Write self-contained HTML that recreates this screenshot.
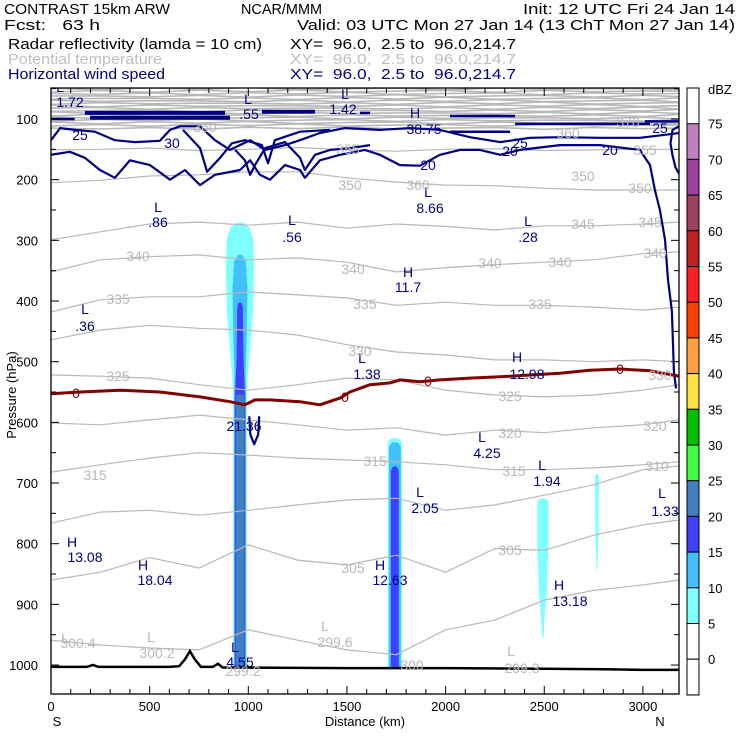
<!DOCTYPE html>
<html><head><meta charset="utf-8"><style>
html,body{margin:0;padding:0;background:#fff;}
svg{display:block;font-family:"Liberation Sans",sans-serif;}
</style></head><body>
<svg id="chart" width="740" height="740" viewBox="0 0 740 740" xmlns="http://www.w3.org/2000/svg">
<g font-size="15">
<text x="4" y="14" textLength="166" lengthAdjust="spacingAndGlyphs">CONTRAST 15km ARW</text>
<text x="241" y="14" textLength="81" lengthAdjust="spacingAndGlyphs">NCAR/MMM</text>
<text x="523" y="14" textLength="212" lengthAdjust="spacingAndGlyphs">Init: 12 UTC Fri 24 Jan 14</text>
<text x="4" y="30" xml:space="preserve" textLength="96" lengthAdjust="spacingAndGlyphs">Fcst:   63 h</text>
<text x="297" y="30" textLength="438" lengthAdjust="spacingAndGlyphs">Valid: 03 UTC Mon 27 Jan 14 (13 ChT Mon 27 Jan 14)</text>
<text x="8" y="49" textLength="254" lengthAdjust="spacingAndGlyphs">Radar reflectivity (lamda = 10 cm)</text>
<text x="290" y="49" xml:space="preserve" textLength="226" lengthAdjust="spacingAndGlyphs">XY=  96.0,  2.5 to  96.0,214.7</text>
<text x="8" y="64" fill="#c0c0c0" textLength="154" lengthAdjust="spacingAndGlyphs">Potential temperature</text>
<text x="290" y="64" fill="#c0c0c0" xml:space="preserve" textLength="226" lengthAdjust="spacingAndGlyphs">XY=  96.0,  2.5 to  96.0,214.7</text>
<text x="8" y="79" fill="#000080" textLength="157" lengthAdjust="spacingAndGlyphs">Horizontal wind speed</text>
<text x="290" y="79" fill="#000080" xml:space="preserve" textLength="226" lengthAdjust="spacingAndGlyphs">XY=  96.0,  2.5 to  96.0,214.7</text>
</g>
<defs><clipPath id="plotclip"><rect x="51" y="88" width="628" height="606"/></clipPath></defs>
<g id="plot" clip-path="url(#plotclip)"></g>
<g id="axes"></g>
<g id="cbar"></g>
</svg>
<script>
// ---- data ----
const xsKm = [0,250,500,750,1000,1250,1500,1750,2000,2250,2500,2750,3000,3183];
const thetaLevels = [350,345,340,335,330,325,320,315,310,305,300];
const theta350 = [205,201,194,192,187,187,197,204,209,210,214,217,217,217];
const theta345 = [299,286,273,270,275,270,280,273,277,283,276,276,273,270];
const theta340 = [352,332,327,324,332,329,336,352,345,340,336,332,322,319];
const theta335 = [418,398,393,393,385,390,395,407,402,407,407,410,415,410];
const theta330 = [464,448,440,445,448,456,472,484,489,497,497,500,497,500];
const theta325 = [522,524,527,538,547,538,527,530,547,555,558,555,547,538];
const theta320 = [601,604,596,588,596,604,613,609,621,613,617,609,604,596];
const theta315 = [682,670,659,650,654,659,662,665,670,678,678,675,670,665];
const theta310 = [766,748,745,753,745,736,728,725,745,736,720,703,678,672];
const theta305 = [860,847,823,840,802,827,835,819,847,808,811,786,769,761];
const theta300 = [959,967,972,975,942,959,975,983,942,926,893,877,868,860];
const theta355 = [151,150,148,152,150,147,151,153,150,149,152,151,150,150];
const stratP = [115,110,106,102,98,94,90,86,82,78,74,70,66,62,58,54,50];
const stratWiggle = [0,1.5,-1,2,-1.5,1,-2,1.5,0,-1,2,-1,1,0];

const wind20Km = [0,96,172,248,324,400,502,603,679,755,831,958,1009,1059,1110,1186,1262,1287,1363,1465,1591,1667,1769,1870,1971,2073,2174,2276,2377,2580,2782,2985,3036,3061,3086,3112,3127,3147,3157,3168];
const wind20P  = [159,154,164,184,197,168,176,200,184,209,192,184,168,192,200,176,184,197,168,159,151,159,176,177,159,151,151,159,151,143,143,151,176,217,250,299,365,417,516,544];
const wind25Km = [0,46,122,223,324,426,552,603,654,755,831,907,1009,1085,1186,1262,1363,1490,1667,1819,1971,2123,2276,2428,2580,2782,2985,3112,3183];
const wind25P  = [135,115,118,121,135,138,136,118,112,112,135,151,135,151,143,135,123,115,118,115,118,130,138,131,130,131,131,126,123];
const wind30aKm = [933,983,1009,1034,1085,1186,1262,1287,1338,1414,1515,1617];
const wind30aP  = [151,168,192,176,148,138,164,184,159,151,148,143];
const wind30bKm = [669,755,791,857,917,983,1069,1100,1135,1262,1414];
const wind30bP  = [118,148,187,164,140,135,143,173,135,121,118];
const windRightKm = [3183,3150,3140,3150,3165,3183];
const windRightP  = [112,118,140,160,180,190];
const windSmallKm = [1005,1010,1030,1050,1055];
const windSmallP  = [590,620,636,620,590];
const jetStartKm = [172,198,1069,1566,2022,2352,2022,0,3010];
const jetEndKm   = [882,907,1338,1617,2352,3036,2327,120,3183];
const jetP       = [90,98,88,90,95,108,121,100,104];

const freezeKm = [0,147,350,552,755,907,983,1034,1110,1262,1363,1465,1515,1617,1718,1769,1870,1971,2123,2276,2428,2580,2732,2884,3036,3183];
const freezeP  = [553,550,547,550,558,566,571,563,563,566,571,560,550,538,535,530,533,530,527,525,522,519,514,512,515,524];

const terrainKm = [0,180,213,240,600,650,680,704,728,760,820,846,870,1500,2000,2500,2800,3000,3183];
const terrainP  = [1003,1003,1000,1003,1003,1002,990,977,990,1003,1003,998,1004,1005,1005,1006,1007,1008,1008];

const dbzLevels = [75,70,65,60,55,50,45,40,35,30,25,20,15,10,5,0];
const dbzColors = ["#c080c0","#a040a0","#a04060","#c02020","#ff2020","#ff4000","#ffa040","#ffe040","#00c000","#40ff40","#4080c0","#4040ff","#40c0ff","#80ffff","#ffffff"];
// plumes: center km, profile pressures, half-widths (km)
const plume1Center = 958;
const p1CyanP = [271,280,300,350,420,480,530,560,700,1004], p1CyanW = [20,50,68,72,66,50,38,34,34,34];
const p1B10P = [324,335,380,450,520,560,1004], p1B10W = [10,30,38,35,28,30,30];
const p1B15P = [403,410,500,560,1004], p1B15W = [8,14,18,27,27];
const p1B20P = [555,1004], p1B20W = [22,22];
const plume2Center = 1743;
const p2CyanP = [626,632,1004], p2CyanW = [15,36,36];
const p2B10P = [633,640,1004], p2B10W = [15,30,30];
const p2B15P = [673,680,1004], p2B15W = [10,20,20];
const plume3Center = 2493;
const p3CyanP = [726,730,800,880,920,955], p3CyanW = [18,28,28,20,10,3];
const plume4Center = 2767;
const p4CyanP = [685,690,780,843], p4CyanW = [6,10,8,2];

const pTicks = [100,200,300,400,500,600,700,800,900,1000];
const kmTicks = [0,500,1000,1500,2000,2500,3000];

// ---- scales ----
const X = km => 51 + km*0.1973;
const Y = p => 119 + (p-100)*0.6067;
const NS = "http://www.w3.org/2000/svg";
const plot = document.getElementById('plot');
const axes = document.getElementById('axes');
const cbar = document.getElementById('cbar');
function mk(tag, parent, attrs){const e=document.createElementNS(NS,tag);for(const k in attrs)e.setAttribute(k,attrs[k]);parent.appendChild(e);return e;}
function pathFrom(kms, ps){return kms.map((k,i)=>(i?'L':'M')+X(k).toFixed(1)+' '+Y(ps[i]).toFixed(1)).join(' ');}
function plumePoly(c, ps, ws){const l=ps.map((p,i)=>X(c-ws[i]).toFixed(1)+','+Y(p).toFixed(1));const r=ps.map((p,i)=>X(c+ws[i]).toFixed(1)+','+Y(p).toFixed(1)).reverse();return l.concat(r).join(' ');}

// plumes
const plumes = [
 [plume1Center,p1CyanP,p1CyanW,"#80ffff"],[plume1Center,p1B10P,p1B10W,"#40c0ff"],[plume1Center,p1B15P,p1B15W,"#4040ff"],[plume1Center,p1B20P,p1B20W,"#4080c0"],
 [plume2Center,p2CyanP,p2CyanW,"#80ffff"],[plume2Center,p2B10P,p2B10W,"#40c0ff"],[plume2Center,p2B15P,p2B15W,"#4040ff"],
 [plume3Center,p3CyanP,p3CyanW,"#80ffff"],[plume4Center,p4CyanP,p4CyanW,"#80ffff"]];
plumes.forEach(pl=>{
 const e=mk('polygon',plot,{points:plumePoly(pl[0],pl[1],pl[2]),fill:pl[3]});
 
 
});

// theta
const thetaSeries=[theta350,theta345,theta340,theta335,theta330,theta325,theta320,theta315,theta310,theta305,theta300];
thetaSeries.forEach((s,i)=>{
 const e=mk('path',plot,{d:pathFrom(xsKm,s),fill:'none',stroke:'#b8b8b8','stroke-width':1.2});
 
 
});
{const e=mk('path',plot,{d:pathFrom(xsKm,theta355),fill:'none',stroke:'#b8b8b8','stroke-width':1.2});
 
 }
stratP.forEach((p0,i)=>{
 const ps=xsKm.map((k,j)=>p0+stratWiggle[(j+i)%stratWiggle.length]);
 const e=mk('path',plot,{d:pathFrom(xsKm,ps),fill:'none',stroke:'#b8b8b8','stroke-width':1.6});
 
 
});

// wind
[[wind20Km,wind20P],[wind25Km,wind25P],[wind30aKm,wind30aP],[wind30bKm,wind30bP],[windRightKm,windRightP],[windSmallKm,windSmallP]].forEach(w=>{
 const e=mk('path',plot,{d:pathFrom(w[0],w[1]),fill:'none',stroke:'#000080','stroke-width':2.2,'stroke-linejoin':'round'});
 
 
});
jetP.forEach((p,i)=>{
 const e=mk('line',plot,{x1:X(jetStartKm[i]),x2:X(jetEndKm[i]),y1:Y(p),y2:Y(p),stroke:'#000080','stroke-width':i<3?4:2.5});
 
 
});

// freezing
{const e=mk('path',plot,{d:pathFrom(freezeKm,freezeP),fill:'none',stroke:'#800000','stroke-width':3,'stroke-linejoin':'round'});
 
 }
// terrain
{const e=mk('path',plot,{d:pathFrom(terrainKm,terrainP),fill:'none',stroke:'#000','stroke-width':2.5});
 
 }

// labels [text, x, y, color]
const NV="#000080", GR="#b8b8b8", DR="#800000";
const labels=[
 ["L",60,92,NV],["1.72",70,107,NV],["L",248,104,NV],[".55",249,119,NV],["L",345,99,NV],["1.42",343,114,NV],
 ["H",415,118,NV],["38.75",424,134,NV],["L",428,197,NV],["8.66",430,213,NV],["L",158,212,NV],[".86",158,227,NV],
 ["L",292,225,NV],[".56",292,242,NV],["L",528,226,NV],[".28",528,242,NV],["H",408,277,NV],["11.7",408,292,NV],
 ["L",85,314,NV],[".36",85,331,NV],["L",362,363,NV],["1.38",367,379,NV],["H",517,362,NV],["12.98",527,379,NV],
 ["21.36",244,431,NV],["L",482,442,NV],["4.25",487,458,NV],["L",542,470,NV],["1.94",547,486,NV],
 ["L",420,497,NV],["2.05",425,513,NV],["L",662,498,NV],["1.33",665,516,NV],["H",72,547,NV],["13.08",85,562,NV],
 ["H",143,570,NV],["18.04",155,585,NV],["H",380,570,NV],["12.63",390,585,NV],["H",559,590,NV],["13.18",570,606,NV],
 ["L",235,652,NV],["4.55",240,667,NV],
 ["25",80,140,NV],["30",172,148,NV],["20",428,170,NV],["25",520,148,NV],["20",610,155,NV],["20",510,156,NV],["25",660,133,NV],
 ["0",76,398,DR],["0",345,402,DR],["0",428,386,DR],["0",620,374,DR],
 ["L",65,643,GR],["300.4",78,648,GR],["L",151,642,GR],["300.2",157,658,GR],["L",325,631,GR],["299.6",335,647,GR],
 ["L",511,656,GR],["299.3",522,673,GR],["299.2",243,676,GR],["300",412,670,GR],
 ["360",205,132,GR],["370",628,127,GR],["360",568,138,GR],["355",348,154,GR],["355",645,155,GR],["350",350,190,GR],["360",418,190,GR],
 ["350",583,181,GR],["350",640,193,GR],["345",583,229,GR],["345",650,227,GR],["340",138,261,GR],["340",353,274,GR],["340",490,268,GR],
 ["340",560,267,GR],["340",655,258,GR],["335",118,304,GR],["335",365,309,GR],["335",540,309,GR],["330",360,356,GR],["330",660,380,GR],
 ["325",118,381,GR],["325",510,401,GR],["320",510,438,GR],["320",655,431,GR],["315",95,480,GR],["315",375,466,GR],["315",514,476,GR],
 ["310",657,471,GR],["305",510,555,GR],["305",353,573,GR]
];
labels.forEach(l=>{
 const t=mk('text',plot,{x:l[1],y:l[2],fill:l[3],'font-size':14,'text-anchor':'middle'});
 t.textContent=l[0];
 
 
});

// frame & ticks
{const e=mk('rect',axes,{x:51,y:88,width:628,height:606,fill:'none',stroke:'#000','stroke-width':1.3});
 
 }
for(let p=50;p<=1050;p+=50){
 const y=Y(p); if(y<88||y>694) continue; const L=p%100===0?8:5;
 const a=mk('line',axes,{x1:51,x2:51+L,y1:y,y2:y,stroke:'#000'});
 
 
 const b=mk('line',axes,{x1:679,x2:679-L,y1:y,y2:y,stroke:'#000'});
 
 
}
for(let k=0;k<=3100;k+=100){
 const x=X(k); const L=k%500===0?8:5;
 const a=mk('line',axes,{x1:x,x2:x,y1:694,y2:694-L,stroke:'#000'});
 
 
 const b=mk('line',axes,{x1:x,x2:x,y1:88,y2:88+L,stroke:'#000'});
 
 
}
pTicks.forEach(p=>{
 const t=mk('text',axes,{x:38,y:Y(p)+5,'font-size':13,'text-anchor':'end'});
 t.textContent=p;
 
 
});
kmTicks.forEach(k=>{
 const t=mk('text',axes,{x:X(k),y:711,'font-size':13,'text-anchor':'middle'});
 t.textContent=k;
 
 
});
[["S",57,726,'x-axis-south'],["Distance (km)",365,726,'x-axis-title'],["N",660,726,'x-axis-north']].forEach(a=>{
 const t=mk('text',axes,{x:a[1],y:a[2],'font-size':13,'text-anchor':'middle'});
 t.textContent=a[0];
 
 
});
{const t=mk('text',axes,{x:16,y:395,'font-size':13,'text-anchor':'middle',transform:'rotate(-90 16 395)'});
 t.textContent='Pressure (hPa)';
 
 }

// colorbar
const cbTop=88, cbStep=35.7, cbX=687, cbW=12;
{const e=mk('rect',cbar,{x:cbX,y:cbTop,width:cbW,height:cbStep*17,fill:'#fff',stroke:'#000'});
 
 }
dbzColors.forEach((c,i)=>{
 const e=mk('rect',cbar,{x:cbX,y:cbTop+cbStep*(i+1),width:cbW,height:cbStep,fill:c,stroke:'#000'});
 
 
});
{const e=mk('rect',cbar,{x:cbX,y:cbTop+cbStep*16,width:cbW,height:cbStep,fill:'#fff',stroke:'#000'});
 
 }
dbzLevels.forEach((v,i)=>{
 const t=mk('text',cbar,{x:708,y:cbTop+cbStep*(i+1)+5,'font-size':13});
 t.textContent=v;
 
 
});
{const t=mk('text',cbar,{x:708,y:94,'font-size':13});
 t.textContent='dBZ';
 
 }
</script>
</body></html>
